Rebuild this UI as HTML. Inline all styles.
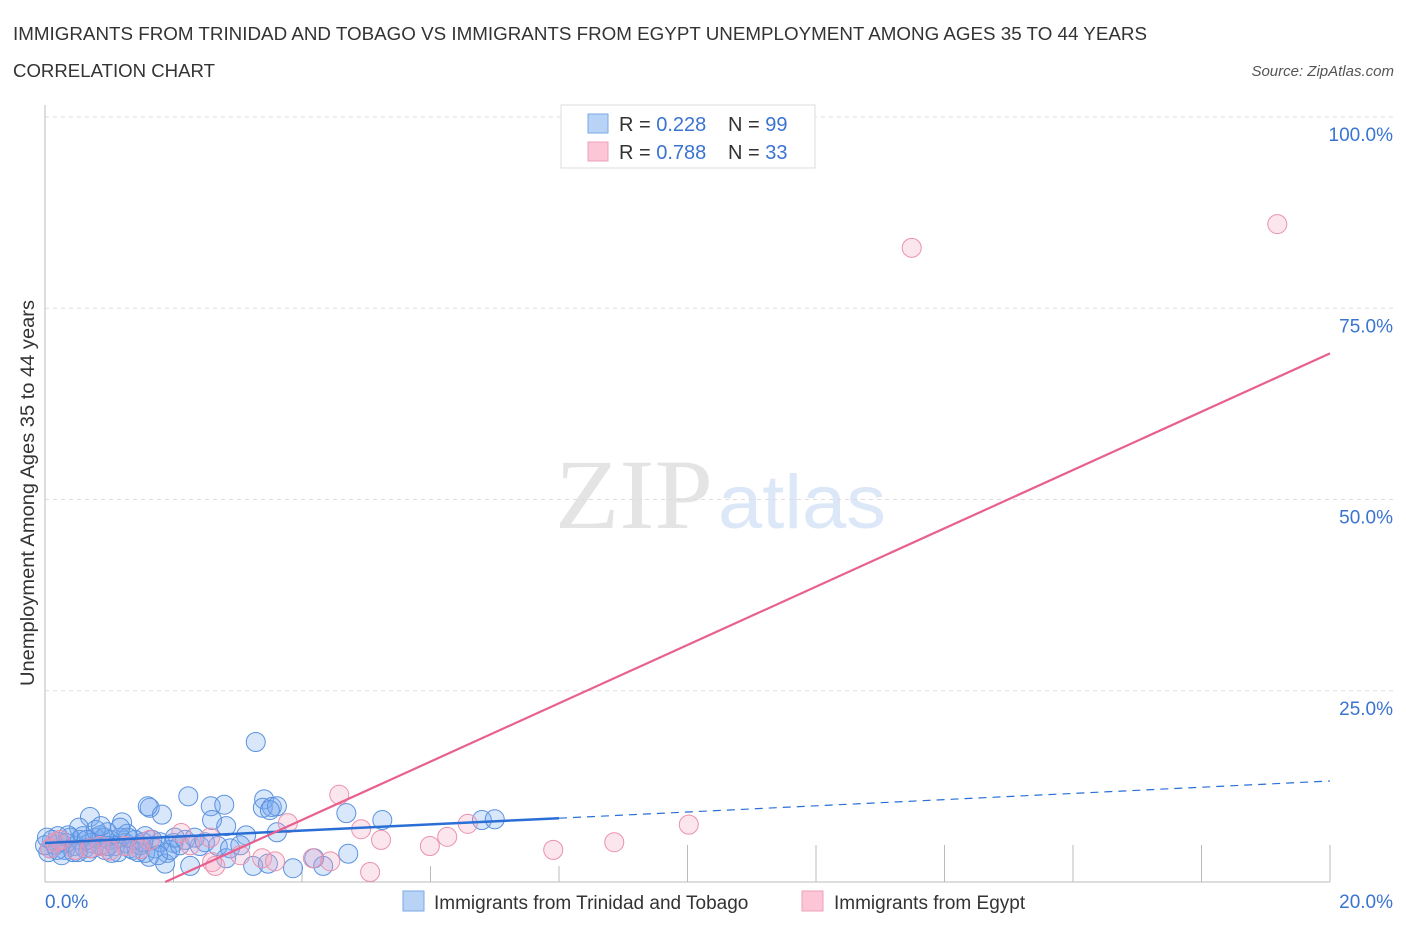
<!DOCTYPE html>
<html><head><meta charset="utf-8"><style>
html,body{margin:0;padding:0;background:#fff;}
svg{display:block;font-family:"Liberation Sans",sans-serif;}
</style></head><body>
<svg id="chart" width="1406" height="930" viewBox="0 0 1406 930" xmlns="http://www.w3.org/2000/svg">
<text x="13" y="40" font-size="18" fill="#333" textLength="1134" lengthAdjust="spacingAndGlyphs">IMMIGRANTS FROM TRINIDAD AND TOBAGO VS IMMIGRANTS FROM EGYPT UNEMPLOYMENT AMONG AGES 35 TO 44 YEARS</text>
<text x="13" y="77" font-size="18" fill="#333" textLength="202" lengthAdjust="spacingAndGlyphs">CORRELATION CHART</text>
<text x="1394" y="76" font-size="15" fill="#555" font-style="italic" text-anchor="end">Source: ZipAtlas.com</text>
<g>
<text x="555" y="528" font-family="Liberation Serif, serif" font-size="100" fill="#e4e4e4" textLength="158" lengthAdjust="spacingAndGlyphs">ZIP</text>
<text x="718" y="528" font-size="76" fill="#dce8f7" textLength="168" lengthAdjust="spacingAndGlyphs">atlas</text>
</g>
<g id="grid"></g>
<g id="axes"></g>
<text transform="translate(34,493) rotate(-90)" font-size="19" fill="#333" text-anchor="middle" textLength="386" lengthAdjust="spacingAndGlyphs">Unemployment Among Ages 35 to 44 years</text>
<g id="pts"></g>
<g id="trends"></g>
<g>
<rect x="561" y="105" width="254" height="63" fill="#fff" stroke="#ddd"/>
<rect x="588" y="114" width="20" height="19" fill="#b8d3f5" stroke="#7aa9e6"/>
<rect x="588" y="142" width="20" height="19" fill="#fcc6d6" stroke="#eea0b8"/>
<text x="619" y="131" font-size="20" fill="#333">R = <tspan fill="#3a74d0">0.228</tspan><tspan x="728">N = </tspan><tspan fill="#3a74d0">99</tspan></text>
<text x="619" y="159" font-size="20" fill="#333">R = <tspan fill="#3a74d0">0.788</tspan><tspan x="728">N = </tspan><tspan fill="#3a74d0">33</tspan></text>
</g>
<g>
<rect x="403" y="891" width="21" height="20" fill="#b8d3f5" stroke="#7aa9e6"/>
<text x="434" y="909" font-size="19" fill="#333">Immigrants from Trinidad and Tobago</text>
<rect x="802" y="891" width="21" height="20" fill="#fcc6d6" stroke="#eea0b8"/>
<text x="834" y="909" font-size="19" fill="#333">Immigrants from Egypt</text>
</g>
</svg>
<script>
const yTicks=[25,50,75,100];
const yTickLabels=["25.0%","50.0%","75.0%","100.0%"];
const xTickLabels=["0.0%","20.0%"];
const blueX=[3.28,2.23,1.63,1.6,1.82,0.7,1.2,2.58,2.79,2.6,2.82,3.41,3.39,3.53,3.61,3.5,4.69,5.25,6.8,7.0,3.61,3.13,2.69,2.41,2.0,1.9,1.87,2.26,1.62,1.56,1.37,2.82,3.24,3.47,3.86,4.19,4.33,4.72,1.56,1.28,0.97,0.53,0.08,0.16,0.23,0.31,0.39,0.47,0.54,0.62,0.70,0.78,0.86,0.93,1.01,1.09,1.17,1.25,1.32,1.40,1.48,1.71,1.79,1.95,2.10,2.18,2.33,0.2,0.36,0.67,0.86,1.14,0.05,0.11,0.26,0.44,0.59,0.73,0.92,1.04,1.45,1.67,2.02,2.49,2.88,3.04,0,0.03,0.33,0.51,0.79,0.98,1.29,1.53,1.76,1.17,0.87,0.19,0.65];
const blueY=[18.3,11.2,9.7,9.9,8.8,8.5,7.8,9.9,10.1,8.1,7.3,10.8,9.7,9.8,9.9,9.4,9.0,8.1,8.1,8.2,6.5,6.1,4.7,4.7,5.1,3.8,2.4,2.1,3.3,3.8,4.2,3.1,2.1,2.4,1.8,3.1,2.1,3.7,6.0,6.3,6.5,7.1,4.4,4.8,5.2,4.2,5.8,4.7,5.5,4.4,5.1,5.8,4.8,4.2,5.5,4.7,5.8,5.1,4.4,5.5,4.8,4.4,5.2,4.2,4.8,5.5,5.8,6.0,6.1,3.9,6.1,3.9,3.9,5.5,3.5,3.9,6.0,4.4,5.8,3.8,3.9,5.5,5.8,5.2,4.4,4.8,4.8,5.8,5.1,3.9,6.8,4.7,5.8,5.2,3.5,7.1,7.3,4.2,5.5];
const pinkX=[13.49,19.18,4.58,10.02,6.58,4.92,3.78,5.23,6.26,5.99,7.91,8.86,5.06,4.17,4.44,3.38,3.58,3.04,2.6,2.65,2.12,2.26,1.63,1.01,0.7,0.47,0.16,0.08,0.23,1.48,2.57,1.25,0.86];
const pinkY=[82.9,86.0,11.4,7.5,7.6,6.9,7.7,5.5,5.9,4.7,4.2,5.2,1.3,3.1,2.7,3.1,2.7,3.5,2.6,2.1,6.4,4.8,5.5,4.1,4.4,4.2,5.2,4.4,5.5,4.3,5.8,4.7,4.7];
const blueTrend=[5.1,13.2];
const blueSolidEnd=8;
const pinkTrend=[-7.13,69.1];
const NS="http://www.w3.org/2000/svg";
const X0=45,X1=1330,Y0=882,Y1=117;
const sx=v=>X0+(X1-X0)*v/20;
const sy=v=>Y0-(Y0-Y1)*v/100;
function mk(tag,attrs,parent){const e=document.createElementNS(NS,tag);for(const k in attrs)e.setAttribute(k,attrs[k]);parent.appendChild(e);return e;}
const grid=document.getElementById('grid'),axes=document.getElementById('axes'),pts=document.getElementById('pts'),tr=document.getElementById('trends');
yTicks.forEach((t,i)=>{
 const l=mk('line',{x1:X0,x2:1395,y1:sy(t),y2:sy(t),stroke:'#ddd','stroke-dasharray':'4,4'},grid);
 
 
 const tx=mk('text',{x:1393,y:sy(t)+24,'font-size':19,fill:'#3a74d0','text-anchor':'end'},axes);
 tx.textContent=yTickLabels[i];
 
 
});
mk('line',{x1:X0,x2:X0,y1:105,y2:Y0,stroke:'#bbb'},axes);
mk('line',{x1:X0,x2:X1,y1:Y0,y2:Y0,stroke:'#bbb'},axes);
for(let k=1;k<=10;k++){
 const t=mk('line',{x1:sx(2*k),x2:sx(2*k),y1:k>=5?845:866,y2:Y0,stroke:'#bbb'},axes);
 
 
}
const xl0=mk('text',{x:45,y:908,'font-size':19,fill:'#3a74d0'},axes);xl0.textContent=xTickLabels[0];


const xl1=mk('text',{x:1393,y:908,'font-size':19,fill:'#3a74d0','text-anchor':'end'},axes);xl1.textContent=xTickLabels[1];


blueX.forEach((v,i)=>{
 const c=mk('circle',{cx:sx(v),cy:sy(blueY[i]),r:9.5,fill:'rgba(120,170,240,0.28)',stroke:'#5b92de','stroke-width':1},pts);
 
 
});
pinkX.forEach((v,i)=>{
 const c=mk('circle',{cx:sx(v),cy:sy(pinkY[i]),r:9.5,fill:'rgba(245,165,195,0.28)',stroke:'#ea92ae','stroke-width':1},pts);
 
 
});
const by=x=>blueTrend[0]+(blueTrend[1]-blueTrend[0])*x/20;
const b1=mk('line',{x1:sx(0),y1:sy(by(0)),x2:sx(blueSolidEnd),y2:sy(by(blueSolidEnd)),stroke:'#2a6fd6','stroke-width':2.5},tr);


const b2=mk('line',{x1:sx(blueSolidEnd),y1:sy(by(blueSolidEnd)),x2:sx(20),y2:sy(by(20)),stroke:'#2a6fd6','stroke-width':1.2,'stroke-dasharray':'8,6'},tr);


const py=x=>pinkTrend[0]+(pinkTrend[1]-pinkTrend[0])*x/20;
const x0p=-pinkTrend[0]*20/(pinkTrend[1]-pinkTrend[0]);
const p1=mk('line',{x1:sx(x0p),y1:sy(py(x0p)),x2:sx(20),y2:sy(py(20)),stroke:'#e8608e','stroke-width':2.2},tr);


</script>
</body></html>
